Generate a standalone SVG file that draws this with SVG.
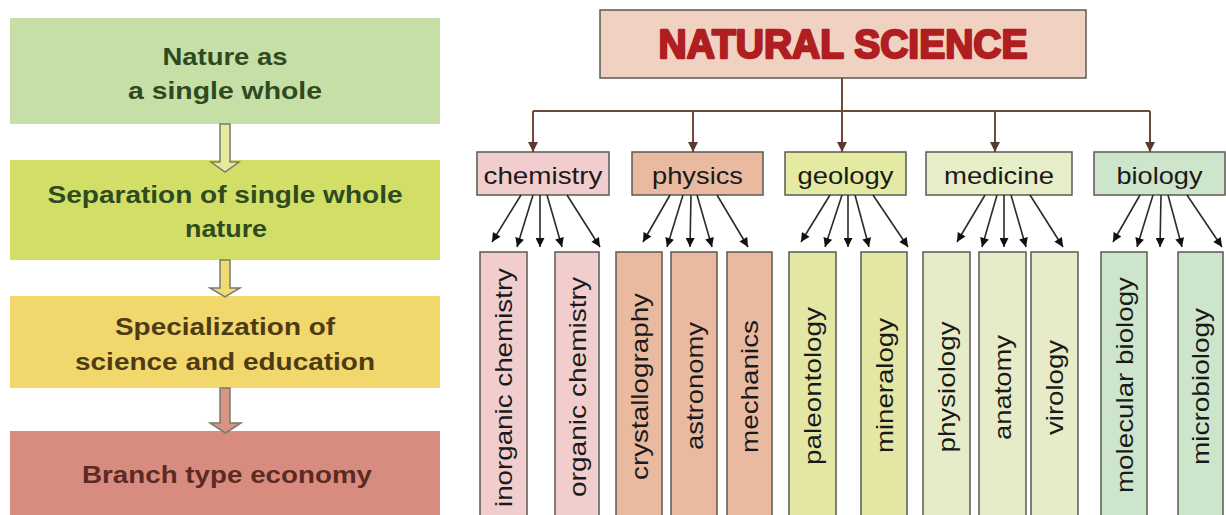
<svg xmlns="http://www.w3.org/2000/svg" width="1226" height="515" viewBox="0 0 1226 515">
<defs>
<style>
.lt{font-family:"Liberation Sans",Arial,sans-serif;font-weight:bold;font-size:24px;text-anchor:middle}
.cat{font-family:"Liberation Sans",Arial,sans-serif;font-size:24px;fill:#1a1a1a;text-anchor:middle}
.sub{font-family:"Liberation Sans",Arial,sans-serif;font-size:24px;fill:#1a1a1a;text-anchor:middle}
.box{stroke:#5a5a52;stroke-width:1.5}
.barrow{stroke:#7a7a70;stroke-width:1.5}
.top{fill:none;stroke:#6b4a3a;stroke-width:2}
.sa{stroke:#2a2a2a;stroke-width:1.6;fill:none}
</style>
<marker id="ah" viewBox="0 0 10 10" refX="10" refY="5" markerWidth="10" markerHeight="9" markerUnits="userSpaceOnUse" orient="auto">
<path d="M0,0 L10,5 L0,10 z" fill="#111"/>
</marker>
<marker id="bh" viewBox="0 0 10 10" refX="10" refY="5" markerWidth="10" markerHeight="10" markerUnits="userSpaceOnUse" orient="auto">
<path d="M0,0 L10,5 L0,10 z" fill="#5a3a2a"/>
</marker>
</defs>
<rect width="1226" height="515" fill="#ffffff"/>

<!-- Left column -->
<g id="nature-whole">
<rect x="10" y="18" width="430" height="106" fill="#c6dfa6"/>
<text class="lt" fill="#2e4a1f" x="225" y="65" textLength="125" lengthAdjust="spacingAndGlyphs">Nature as</text>
<text class="lt" fill="#2e4a1f" x="225" y="99" textLength="194" lengthAdjust="spacingAndGlyphs">a single whole</text>
</g>
<g id="separation">
<rect x="10" y="160" width="430" height="100" fill="#d3de66"/>
<text class="lt" fill="#2e4a1f" x="225" y="203" textLength="355" lengthAdjust="spacingAndGlyphs">Separation of single whole</text>
<text class="lt" fill="#2e4a1f" x="226" y="237" textLength="82" lengthAdjust="spacingAndGlyphs">nature</text>
</g>
<g id="specialization">
<rect x="10" y="296" width="430" height="92" fill="#f1d76c"/>
<text class="lt" fill="#4d3b14" x="225" y="335" textLength="220" lengthAdjust="spacingAndGlyphs">Specialization of</text>
<text class="lt" fill="#4d3b14" x="225" y="370" textLength="300" lengthAdjust="spacingAndGlyphs">science and education</text>
</g>
<g id="branch-economy">
<rect x="10" y="431" width="430" height="90" fill="#d88c80"/>
<text class="lt" fill="#5c2a22" x="227" y="483" textLength="290" lengthAdjust="spacingAndGlyphs">Branch type economy</text>
</g>

<!-- Right: main -->
<g id="natural-science">
<rect class="box" x="600" y="10" width="486" height="68" fill="#f1d2c2" stroke="#6b4a3a"/>
<text x="843" y="58" font-family="'Liberation Sans',Arial,sans-serif" font-weight="bold" font-size="41" fill="#b01e22" stroke="#b01e22" stroke-width="2.4" stroke-linejoin="round" text-anchor="middle" textLength="369" lengthAdjust="spacingAndGlyphs">NATURAL SCIENCE</text>
</g>

<g id="chemistry">
<rect class="box" x="477" y="152" width="132" height="43" fill="#f2cdcd"/>
<text class="cat" x="543" y="184" textLength="119" lengthAdjust="spacingAndGlyphs">chemistry</text>
</g>
<g id="physics">
<rect class="box" x="632" y="152" width="131" height="43" fill="#e9b9a0"/>
<text class="cat" x="697.5" y="184" textLength="91" lengthAdjust="spacingAndGlyphs">physics</text>
</g>
<g id="geology">
<rect class="box" x="785" y="152" width="121" height="43" fill="#e4eaa2"/>
<text class="cat" x="845.5" y="184" textLength="96" lengthAdjust="spacingAndGlyphs">geology</text>
</g>
<g id="medicine">
<rect class="box" x="926" y="152" width="146" height="43" fill="#e6eec8"/>
<text class="cat" x="999" y="184" textLength="110" lengthAdjust="spacingAndGlyphs">medicine</text>
</g>
<g id="biology">
<rect class="box" x="1094" y="152" width="131" height="43" fill="#cde5ca"/>
<text class="cat" x="1159.5" y="184" textLength="86" lengthAdjust="spacingAndGlyphs">biology</text>
</g>

<!-- Sub boxes -->
<g id="inorganic-chemistry">
<rect class="box" x="480" y="252" width="47" height="270" fill="#f2cdcd"/>
<text class="sub" transform="translate(512,387.5) rotate(-90)" textLength="239" lengthAdjust="spacingAndGlyphs">inorganic chemistry</text>
</g>
<g id="organic-chemistry">
<rect class="box" x="555" y="252" width="44" height="270" fill="#f2cdcd"/>
<text class="sub" transform="translate(585.5,387) rotate(-90)" textLength="220" lengthAdjust="spacingAndGlyphs">organic chemistry</text>
</g>
<g id="crystallography">
<rect class="box" x="616" y="252" width="46" height="270" fill="#e9b9a0"/>
<text class="sub" transform="translate(647.5,386.5) rotate(-90)" textLength="187" lengthAdjust="spacingAndGlyphs">crystallography</text>
</g>
<g id="astronomy">
<rect class="box" x="671" y="252" width="46" height="270" fill="#e9b9a0"/>
<text class="sub" transform="translate(702.5,386) rotate(-90)" textLength="128" lengthAdjust="spacingAndGlyphs">astronomy</text>
</g>
<g id="mechanics">
<rect class="box" x="727" y="252" width="45" height="270" fill="#e9b9a0"/>
<text class="sub" transform="translate(758,386.5) rotate(-90)" textLength="133" lengthAdjust="spacingAndGlyphs">mechanics</text>
</g>
<g id="paleontology">
<rect class="box" x="789" y="252" width="47" height="270" fill="#e4e6a4"/>
<text class="sub" transform="translate(821,386) rotate(-90)" textLength="158" lengthAdjust="spacingAndGlyphs">paleontology</text>
</g>
<g id="mineralogy">
<rect class="box" x="861" y="252" width="46" height="270" fill="#e4e6a4"/>
<text class="sub" transform="translate(892.5,385.5) rotate(-90)" textLength="135" lengthAdjust="spacingAndGlyphs">mineralogy</text>
</g>
<g id="physiology">
<rect class="box" x="923" y="252" width="47" height="270" fill="#e6ecc8"/>
<text class="sub" transform="translate(955,387) rotate(-90)" textLength="131" lengthAdjust="spacingAndGlyphs">physiology</text>
</g>
<g id="anatomy">
<rect class="box" x="979" y="252" width="47" height="270" fill="#e6ecc8"/>
<text class="sub" transform="translate(1011,387.5) rotate(-90)" textLength="105" lengthAdjust="spacingAndGlyphs">anatomy</text>
</g>
<g id="virology">
<rect class="box" x="1031" y="252" width="47" height="270" fill="#e6ecc8"/>
<text class="sub" transform="translate(1063,387.5) rotate(-90)" textLength="95" lengthAdjust="spacingAndGlyphs">virology</text>
</g>
<g id="molecular-biology">
<rect class="box" x="1101" y="252" width="46" height="270" fill="#cde5ca"/>
<text class="sub" transform="translate(1132.5,385) rotate(-90)" textLength="216" lengthAdjust="spacingAndGlyphs">molecular biology</text>
</g>
<g id="microbiology">
<rect class="box" x="1178" y="252" width="45" height="270" fill="#cde5ca"/>
<text class="sub" transform="translate(1209,386.5) rotate(-90)" textLength="157" lengthAdjust="spacingAndGlyphs">microbiology</text>
</g>

<!-- Connectors -->
<g id="connectors">
<polygon class="barrow" fill="#e6eb9c" points="220,124 230,124 230,162 239,162 225,172 211,162 220,162"/>
<polygon class="barrow" fill="#f0dc72" points="220,260 230,260 230,288 240,288 225,297 210,288 220,288"/>
<polygon class="barrow" fill="#d99484" points="220,388 230,388 230,423 241,423 225.5,433 210,423 220,423"/>

<path class="top" d="M842,78 V111 M533,111 H1150"/>
<line class="top" x1="533" y1="111" x2="533" y2="152" marker-end="url(#bh)"/>
<line class="top" x1="693" y1="111" x2="693" y2="152" marker-end="url(#bh)"/>
<line class="top" x1="842" y1="111" x2="842" y2="152" marker-end="url(#bh)"/>
<line class="top" x1="995" y1="111" x2="995" y2="152" marker-end="url(#bh)"/>
<line class="top" x1="1150" y1="111" x2="1150" y2="152" marker-end="url(#bh)"/>

<line class="sa" x1="521" y1="195" x2="492" y2="242" marker-end="url(#ah)"/>
<line class="sa" x1="533" y1="195" x2="517" y2="247" marker-end="url(#ah)"/>
<line class="sa" x1="540" y1="195" x2="540" y2="247" marker-end="url(#ah)"/>
<line class="sa" x1="547" y1="195" x2="562" y2="247" marker-end="url(#ah)"/>
<line class="sa" x1="567" y1="195" x2="600" y2="247" marker-end="url(#ah)"/>

<line class="sa" x1="670" y1="195" x2="643" y2="242" marker-end="url(#ah)"/>
<line class="sa" x1="683" y1="195" x2="667" y2="247" marker-end="url(#ah)"/>
<line class="sa" x1="691" y1="195" x2="690" y2="247" marker-end="url(#ah)"/>
<line class="sa" x1="697" y1="195" x2="712" y2="247" marker-end="url(#ah)"/>
<line class="sa" x1="717" y1="195" x2="748" y2="247" marker-end="url(#ah)"/>

<line class="sa" x1="830" y1="195" x2="801" y2="242" marker-end="url(#ah)"/>
<line class="sa" x1="842" y1="195" x2="825" y2="247" marker-end="url(#ah)"/>
<line class="sa" x1="848" y1="195" x2="848" y2="247" marker-end="url(#ah)"/>
<line class="sa" x1="855" y1="195" x2="869" y2="247" marker-end="url(#ah)"/>
<line class="sa" x1="873" y1="195" x2="908" y2="247" marker-end="url(#ah)"/>

<line class="sa" x1="985" y1="195" x2="957" y2="242" marker-end="url(#ah)"/>
<line class="sa" x1="997" y1="195" x2="982" y2="247" marker-end="url(#ah)"/>
<line class="sa" x1="1004" y1="195" x2="1004" y2="247" marker-end="url(#ah)"/>
<line class="sa" x1="1011" y1="195" x2="1026" y2="247" marker-end="url(#ah)"/>
<line class="sa" x1="1030" y1="195" x2="1063" y2="247" marker-end="url(#ah)"/>

<line class="sa" x1="1140" y1="195" x2="1113" y2="242" marker-end="url(#ah)"/>
<line class="sa" x1="1153" y1="195" x2="1137" y2="247" marker-end="url(#ah)"/>
<line class="sa" x1="1161" y1="195" x2="1160" y2="247" marker-end="url(#ah)"/>
<line class="sa" x1="1168" y1="195" x2="1182" y2="247" marker-end="url(#ah)"/>
<line class="sa" x1="1187" y1="195" x2="1222" y2="247" marker-end="url(#ah)"/>
</g>
</svg>
